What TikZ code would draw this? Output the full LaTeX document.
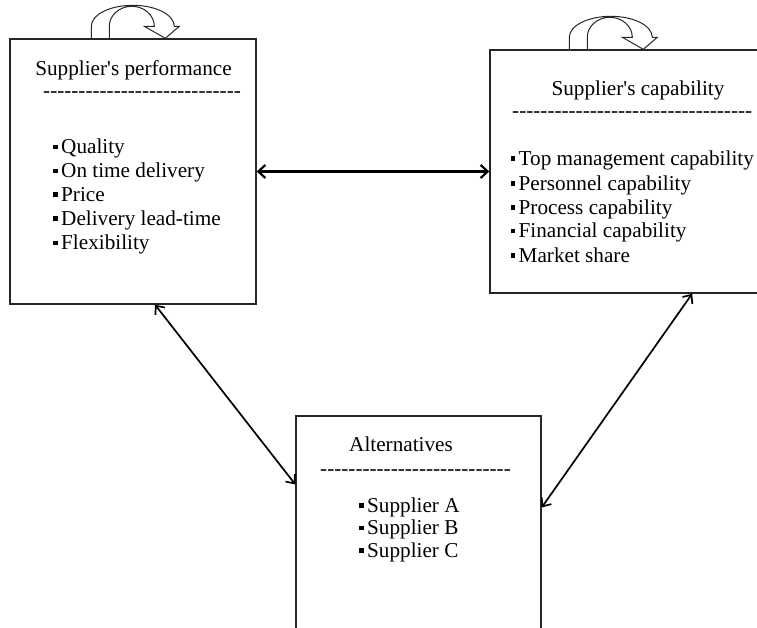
\documentclass[tikz,border=0pt]{standalone}
\usepackage{fontspec}
\setmainfont{Liberation Serif}
\newfontfamily\plainserif{Liberation Serif}
\usetikzlibrary{arrows.meta,calc}
\newcommand\bul{\rule[4.5pt]{4.5pt}{4.5pt}\hspace{3.5pt}}
\newcommand\hyphs[1]{\foreach\k in {1,...,#1}{-\kern0pt}}
\begin{document}
\begin{tikzpicture}[x=1pt,y=-1pt,
  box/.style={draw=black!85, line width=1.4pt, fill=none, inner sep=0pt},
  txt/.style={inner sep=0pt, font=\plainserif\fontsize{21.2pt}{24pt}\selectfont, anchor=base west},
  ttl/.style={txt, anchor=base},
  link/.style={{Straight Barb[length=7pt,width=13pt]}-{Straight Barb[length=7pt,width=13pt]}, line width=2.2pt},
  dlink/.style={{Straight Barb[length=7pt,width=12pt]}-{Straight Barb[length=7pt,width=12pt]}, line width=1.7pt},
  loopsty/.style={draw=black!85, line width=1pt},
  selfloop/.pic={
    \draw[loopsty] (0,0) -- (0,-12)
      arc[start angle=180, end angle=360, x radius=41.5, y radius=21]
      -- (88,-12) -- (74,0) -- (53,-12) -- (63,-12)
      arc[start angle=0, end angle=-180, x radius=22.5, y radius=20]
      -- (18,0);
  }]
\useasboundingbox (0,0) rectangle (757,628);
\clip (0,0) rectangle (757,628);

% boxes
\node[box, minimum width=246pt, minimum height=265pt] (perf) at (133,171.5) {};
\node[box, minimum width=280pt, minimum height=243pt] (cap) at (630,171.5) {};
\node[box, minimum width=245pt, minimum height=229pt] (alt) at (418.5,530.5) {};

% self loops
\pic at ($(perf.north west)+(82,0)$) {selfloop};
\pic at ($(cap.north west)+(80,0)$) {selfloop};

% Supplier's performance
\node[ttl] (perft) at (133.5,76) {Supplier's performance};
\node[txt] (perfd) at (43,97.4) {\hyphs{28}};
\node[txt] (p1) at (53,154) {\bul Quality};
\node[txt] (p2) at (53,177.8) {\bul On time delivery};
\node[txt] (p3) at (53,201.5) {\bul Price};
\node[txt] (p4) at (53,225.5) {\bul Delivery lead-time};
\node[txt] (p5) at (53,250) {\bul Flexibility};

% Supplier's capability
\node[ttl] (capt) at (638,96) {Supplier's capability};
\node[txt] (capd) at (512,117.7) {\hyphs{34}};
\node[txt] (c1) at (510.5,165.5) {\bul Top management capability};
\node[txt] (c2) at (510.5,190.5) {\bul Personnel capability};
\node[txt] (c3) at (510.5,214.5) {\bul Process capability};
\node[txt] (c4) at (510.5,238) {\bul Financial capability};
\node[txt] (c5) at (510.5,262) {\bul Market share};

% Alternatives
\node[ttl] (altt) at (401,451) {Alternatives};
\node[txt] (altd) at (320,475.4) {\hyphs{27}};
\node[txt] (a1) at (359,512) {\bul Supplier A};
\node[txt] (a2) at (359,534.5) {\bul Supplier B};
\node[txt] (a3) at (359,557) {\bul Supplier C};

% connectors
\draw[link] (perf.east) -- (cap.west);
\draw[dlink] ($(perf.south west)!0.589!(perf.south east)$) -- ($(alt.north west)!0.30!(alt.south west)$);
\draw[dlink] ($(alt.north east)!0.40!(alt.south east)$) -- ($(cap.south west)!0.721!(cap.south east)$);
\end{tikzpicture}
\end{document}
